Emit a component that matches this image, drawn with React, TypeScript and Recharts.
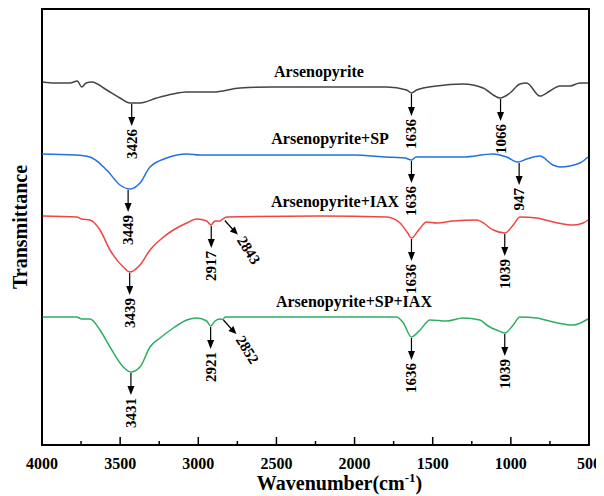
import { LineChart, Line, XAxis, YAxis, ReferenceArea, ReferenceDot } from "recharts";

const FONT = '"Liberation Serif", "Times New Roman", serif';

// wavenumber (cm-1), transmittance (a.u., curves stacked with offsets)
const arsenopyrite = [
  [3996, 363], [3917, 362], [3821, 362], [3774, 364], [3746, 358], [3718, 362], [3682, 363],
  [3586, 355], [3501, 347], [3437, 342], [3373, 342], [3266, 347], [3162, 351], [3074, 353],
  [2906, 353], [2733, 357], [2522, 358], [2221, 358], [2010, 358], [1795, 358], [1667, 355],
  [1635, 352], [1603, 355], [1475, 359], [1306, 361], [1178, 357], [1070, 347], [1006, 352],
  [942, 361], [899, 362], [814, 349], [750, 354], [686, 359], [622, 359], [558, 362], [507, 362],
];
const arsenopyriteSP = [
  [4000, 291], [3789, 290], [3693, 288], [3586, 275], [3501, 260], [3437, 256], [3373, 262],
  [3309, 278], [3202, 287], [3074, 291], [2989, 290], [2669, 290], [2306, 290], [2010, 290],
  [1795, 288], [1678, 287], [1635, 285], [1607, 288], [1475, 288], [1306, 288], [1114, 291],
  [1027, 288], [955, 283], [899, 286], [814, 289], [731, 280], [686, 278], [558, 282], [507, 288],
];
const arsenopyriteIAX = [
  [3996, 229], [3778, 228], [3746, 226], [3693, 225], [3629, 215], [3565, 195], [3480, 178],
  [3437, 173], [3373, 180], [3309, 195], [3245, 205], [3160, 215], [3074, 222], [3010, 226],
  [2946, 224], [2919, 220], [2893, 224], [2861, 224], [2848, 225.5], [2818, 228], [2221, 229],
  [1795, 228], [1709, 222], [1660, 212], [1636, 207], [1590, 215], [1539, 223], [1475, 222],
  [1370, 224], [1219, 225], [1166, 221], [1134, 217], [1112, 215], [1038, 212], [985, 220],
  [942, 228], [835, 227], [729, 223], [601, 220], [537, 222], [507, 225],
];
const arsenopyriteSPIAX = [
  [3996, 128], [3778, 128], [3746, 126], [3693, 126], [3629, 115], [3565, 98], [3480, 78],
  [3433, 73], [3373, 78], [3309, 98], [3245, 107], [3160, 117], [3074, 125], [3010, 127],
  [2946, 124], [2921, 119], [2893, 124], [2861, 126], [2842, 125.5], [2829, 128], [2221, 128],
  [1731, 128], [1688, 122], [1636, 108], [1581, 115], [1517, 125], [1411, 124], [1304, 127],
  [1198, 125], [1155, 120], [1123, 117], [1091, 115], [1038, 112], [985, 120], [942, 128],
  [835, 127], [729, 123], [601, 120], [507, 126],
];

const names = ["Arsenopyrite", "Arsenopyrite+SP", "Arsenopyrite+IAX", "Arsenopyrite+SP+IAX"];
const colors = ["#444444", "#2271e0", "#f04444", "#2eae62"];
const spectra = [arsenopyrite, arsenopyriteSP, arsenopyriteIAX, arsenopyriteSPIAX];
const peaks = [
  [3426, 1636, 1066],
  [3449, 1636, 947],
  [3439, 2917, 1636, 1039],
  [3431, 2921, 1636, 1039],
];
const shoulders = [[], [], [2843], [2852]];
// where each sample name sits (wavenumber, transmittance)
const titleAt = [
  [2228, 374],
  [2157, 307],
  [2125, 244],
  [2004, 144],
];
const xTicks = [4000, 3750, 3500, 3250, 3000, 2750, 2500, 2250, 2000, 1750, 1500, 1250, 1000, 750, 500];

const toPoints = (s: number[][]) => s.map(([wn, t]) => ({ wn, t }));
const nearestT = (s: number[][], wn: number) =>
  s.reduce((b, p) => (Math.abs(p[0] - wn) < Math.abs(b[0] - wn) ? p : b))[1];

function XTick(props: any) {
  const { x, y, payload } = props;
  const major = payload.value % 500 === 0;
  return (
    <g>
      <line x1={x} x2={x} y1={y} y2={y - (major ? 8 : 4)} stroke="#000" strokeWidth={1.5} />
      {major && (
        <text x={x} y={y + 24} textAnchor="middle" fontFamily={FONT} fontWeight="bold" fontSize={16} fill="#000">
          {payload.value}
        </text>
      )}
    </g>
  );
}

function DownArrow(props: any) {
  const { cx, cy, text } = props;
  const tip = cy + 23;
  return (
    <g>
      <line x1={cx} y1={cy + 1} x2={cx} y2={tip - 8} stroke="#000" strokeWidth={1.2} />
      <polygon points={`${cx - 3.5},${tip - 9} ${cx + 3.5},${tip - 9} ${cx},${tip}`} fill="#000" />
      <text
        transform={`translate(${cx},${tip + 3}) rotate(-90)`}
        textAnchor="end"
        dominantBaseline="central"
        fontFamily={FONT}
        fontWeight="bold"
        fontSize={15}
        fill="#000"
      >
        {text}
      </text>
    </g>
  );
}

function SideArrow(props: any) {
  const { cx, cy, text } = props;
  const x1 = cx + 2, y1 = cy + 1, x2 = cx + 15, y2 = cy + 15;
  return (
    <g>
      <line x1={x1} y1={y1} x2={x2 - 5} y2={y2 - 5} stroke="#000" strokeWidth={1.2} />
      <polygon points={`${x2 - 8},${y2 - 3} ${x2 - 3},${y2 - 8} ${x2},${y2}`} fill="#000" />
      <text
        transform={`translate(${x2 + 3},${y2 + 3}) rotate(58)`}
        textAnchor="start"
        dominantBaseline="central"
        fontFamily={FONT}
        fontWeight="bold"
        fontSize={15}
        fill="#000"
      >
        {text}
      </text>
    </g>
  );
}

function Title(props: any) {
  const { cx, cy, text } = props;
  return (
    <text x={cx} y={cy} textAnchor="middle" dominantBaseline="central" fontFamily={FONT} fontWeight="bold" fontSize={16} fill="#000">
      {text}
    </text>
  );
}

function XLabel(props: any) {
  const { x, y, width } = props.viewBox;
  return (
    <text x={x + width / 2 + 24} y={y + 45} textAnchor="middle" fontFamily={FONT} fontWeight="bold" fontSize={20} fill="#000">
      Wavenumber(cm
      <tspan fontSize={13} dy={-8}>-1</tspan>
      <tspan dy={8}>)</tspan>
    </text>
  );
}

function YLabel(props: any) {
  const { y, height } = props.viewBox;
  return (
    <text
      transform={`translate(20,${y + height / 2}) rotate(-90)`}
      textAnchor="middle"
      dominantBaseline="central"
      fontFamily={FONT}
      fontWeight="bold"
      fontSize={20}
      fill="#000"
    >
      Transmittance
    </text>
  );
}

export default function App() {
  return (
    <div style={{ margin: "-8px 0 0 -8px", width: 604, height: 496 }}>
      <LineChart width={604} height={496} margin={{ top: 9, right: 15, left: 0, bottom: 0 }}>
        <XAxis
          type="number"
          dataKey="wn"
          domain={[500, 4000]}
          reversed
          ticks={xTicks}
          interval={0}
          tick={<XTick />}
          tickLine={false}
          axisLine={false}
          tickSize={0}
          tickMargin={0}
          height={51}
          allowDataOverflow
          label={<XLabel />}
        />
        <YAxis
          type="number"
          dataKey="t"
          domain={[0, 436]}
          width={42}
          tick={false}
          tickLine={false}
          axisLine={false}
          allowDataOverflow
          label={<YLabel />}
        />
        {spectra.map((s, i) => (
          <Line
            key={names[i]}
            data={toPoints(s)}
            dataKey="t"
            type="monotone"
            stroke={colors[i]}
            strokeWidth={1.5}
            dot={false}
            isAnimationActive={false}
          />
        ))}
        <ReferenceArea x1={4000} x2={500} y1={0} y2={436} fill="none" stroke="#000" strokeWidth={2} ifOverflow="visible" />
        {spectra.map((s, i) =>
          peaks[i].map((wn) => (
            <ReferenceDot
              key={`p${i}-${wn}`}
              x={wn}
              y={nearestT(s, wn)}
              r={0}
              ifOverflow="visible"
              shape={(p: any) => <DownArrow cx={p.cx} cy={p.cy} text={String(wn)} />}
            />
          ))
        )}
        {spectra.map((s, i) =>
          shoulders[i].map((wn) => (
            <ReferenceDot
              key={`s${i}-${wn}`}
              x={wn}
              y={nearestT(s, wn)}
              r={0}
              ifOverflow="visible"
              shape={(p: any) => <SideArrow cx={p.cx} cy={p.cy} text={String(wn)} />}
            />
          ))
        )}
        {names.map((n, i) => (
          <ReferenceDot
            key={`t${i}`}
            x={titleAt[i][0]}
            y={titleAt[i][1]}
            r={0}
            ifOverflow="visible"
            shape={(p: any) => <Title cx={p.cx} cy={p.cy} text={n} />}
          />
        ))}
      </LineChart>
    </div>
  );
}
